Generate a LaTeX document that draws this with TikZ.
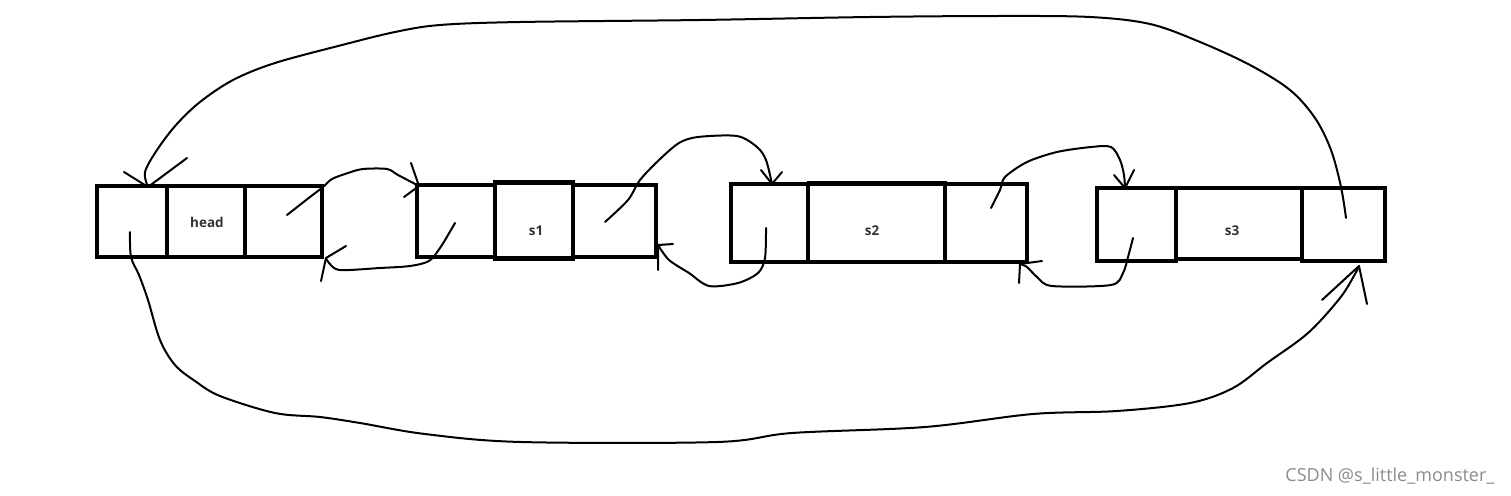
\documentclass[tikz,border=0pt]{standalone}
\usepackage{fontspec}
\setmainfont{Open Sans}
\begin{document}
\begin{tikzpicture}[x=1pt,y=-1pt,
  cell/.style={draw, line width=3.6pt, inner sep=0pt, outer sep=0pt},
  thickcell/.style={cell, line width=4.6pt},
  wire/.style={line width=2pt, line join=round, line cap=round},
  lbl/.style={font=\fontsize{13.5}{15}\selectfont\bfseries, text=black!80}]
\useasboundingbox[fill=white] (0,0) rectangle (1511,495);
% head node
\node[cell, minimum width=70, minimum height=71] (hL) at (132,221.5) {};
\node[cell, minimum width=78, minimum height=71] (hM) at (206,221.5) {};
\node[cell, minimum width=77, minimum height=71] (hR) at (283.5,221.5) {};
\node[lbl] (hT) at (207,222) {head};
% s1 node
\node[cell, minimum width=78, minimum height=72] (aL) at (456,221) {};
\node[cell, minimum width=83, minimum height=72] (aR) at (614.5,221) {};
\node[thickcell, minimum width=78, minimum height=76] (aM) at (534,220.5) {};
\node[lbl] (aT) at (536,231) {s1};
% s2 node
\node[cell, minimum width=77, minimum height=78] (bL) at (769.5,223) {};
\node[cell, minimum width=82, minimum height=78] (bR) at (986,223) {};
\node[cell, minimum width=137, minimum height=78] (bM) at (876.5,223) {};
\draw[line width=3pt] (bM.north west) -- ++(0,-2) -- ++(137,0) -- ++(0,2);
\node[lbl] (bT) at (872,231) {s2};
% s3 node
\node[cell, minimum width=79, minimum height=73] (cL) at (1136.5,224.5) {};
\node[cell, minimum width=83, minimum height=73] (cR) at (1343.5,224.5) {};
\node[cell, minimum width=126, minimum height=71] (cM) at (1239,223.5) {};
\node[lbl] (cT) at (1232,231) {s3};
% endpoints of connectors
\coordinate (t1s) at (1346,218); \coordinate (t1e) at (148,187);
\coordinate (t2s) at (130,232);  \coordinate (t2e) at (1359,266);
\coordinate (n1s) at (287,215);  \coordinate (n1e) at (419,186);
\coordinate (p1s) at (455,223);  \coordinate (p1e) at (326,258);
\coordinate (n2s) at (605,222);  \coordinate (n2e) at (772,184);
\coordinate (p2s) at (766,228);  \coordinate (p2e) at (658,245);
\coordinate (n3s) at (991,208);  \coordinate (n3e) at (1125,188);
\coordinate (p3s) at (1133,238); \coordinate (p3e) at (1020,264);
% big loop over the top: s3 -> head
\draw[wire] plot[smooth, tension=0.55] coordinates {(t1s) (1341,187) (1331,150) (1315,118) (1290,90) (1250,65) (1200,42) (1150,24) (1090,17) (1000,16) (870,17) (700,20) (520,22) (440,25) (395,32) (342,45) (275,63) (233,80) (200,102) (176,125) (157,150) (145,172) (t1e)};
\draw[wire] (t1e) -- (124,172) (t1e) -- (187,158);
% big loop underneath: head -> s3
\draw[wire] plot[smooth, tension=0.55] coordinates {(t2s) (131,257) (139,275) (148,300) (160,340) (175,365) (195,381) (220,396) (275,413) (320,417) (360,423) (425,434) (521,442) (717,442) (792,433) (925,427) (1033,414) (1117,411) (1190,403) (1233,388) (1267,363) (1308,333) (1340,298) (1355,274) (t2e)};
\draw[wire] (t2e) -- (1322,300) (t2e) -- (1367,304);
% head -> s1
\draw[wire] plot[smooth, tension=0.5] coordinates {(n1s) (310,197) (323,187) (332,179) (348,173) (363,169) (387,169) (398,175) (n1e)};
\draw[wire] (n1e) -- (404,197) (n1e) -- (411,163);
% s1 -> head
\draw[wire] plot[smooth, tension=0.5] coordinates {(p1s) (448,235) (440,248) (429,261) (410,266) (380,268) (340,270) (329,263) (p1e)};
\draw[wire] (p1e) -- (346,246) (p1e) -- (321,281);
% s1 -> s2
\draw[wire] plot[smooth, tension=0.5] coordinates {(n2s) (628,200) (640,180) (659,160) (679,143) (698,137) (737,136) (757,147) (766,160) (n2e)};
\draw[wire] (n2e) -- (761,170) (n2e) -- (782,172);
% s2 -> s1
\draw[wire] plot[smooth, tension=0.5] coordinates {(p2s) (765,258) (758,273) (738,283) (709,286) (689,273) (669,260) (p2e)};
\draw[wire] (p2e) -- (673,244) (p2e) -- (658,270);
% s2 -> s3
\draw[wire] plot[smooth, tension=0.5] coordinates {(n3s) (1000,190) (1005,177) (1027,162) (1057,152) (1091,147) (1111,147) (1120,160) (1124,175) (n3e)};
\draw[wire] (n3e) -- (1114,175) (n3e) -- (1134,170);
% s3 -> s2
\draw[wire] plot[smooth, tension=0.5] coordinates {(p3s) (1128,257) (1123,273) (1111,285) (1052,286) (1037,277) (1027,267) (p3e)};
\draw[wire] (p3e) -- (1042,261) (p3e) -- (1019,283);
% watermark
\node[anchor=east, text=black!45, font=\fontsize{18}{20}\selectfont] (wm) at (1498,476) {CSDN @s\_little\_monster\_};
\end{tikzpicture}
\end{document}
